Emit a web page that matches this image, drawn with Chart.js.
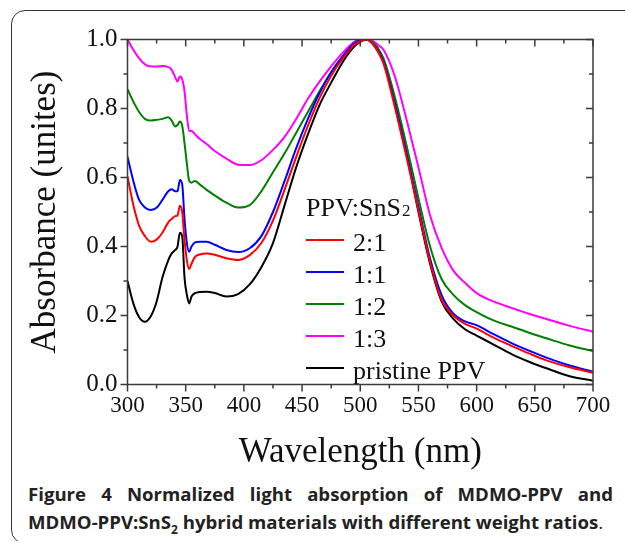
<!DOCTYPE html>
<html lang="en">
<head>
    <title>Normalized light absorption of MDMO-PPV and MDMO-PPV:SnS2</title>
    <meta charset="utf-8" />
    <script src="https://cdn.jsdelivr.net/npm/chart.js@4.4.1/dist/chart.umd.min.js"></script>
    <style>
        html, body { margin: 0; padding: 0; background: #fff; overflow: hidden; }
        #page { position: relative; width: 625px; height: 541px; overflow: hidden; }
        #frame {
            position: absolute; left: 11px; top: 10px; width: 660px; height: 534px;
            border: 1.5px solid #333; border-radius: 14px; box-sizing: border-box;
        }
        #myChart { position: absolute; left: 0; top: 0; }
        .caption {
            position: absolute; left: 28px; width: 585px;
            font-family: "Open Sans", "Noto Sans", sans-serif; font-weight: bold;
            font-size: 18.6px; line-height: 22px; color: #222; white-space: nowrap;
        }
        #cap1 { top: 483px; text-align: justify; text-align-last: justify; white-space: normal; }
        #cap2 { top: 511px; }
        #cap2 .dot { font-weight: normal; }
    </style>
    <script>
        //Wavelength grid (nm) shared by every curve.
        var wavelength = [300, 305, 310, 315, 320, 325, 330, 335, 338, 341, 343, 345, 347, 349, 351, 353, 355, 358, 362, 368,
            375, 385, 395, 405, 415, 425, 435, 445, 455, 465, 475, 485, 495, 500, 505, 510, 515, 520, 530, 540,
            550, 560, 570, 580, 590, 600, 615, 630, 645, 660, 680, 700];

        //Normalized absorbance.
        var ratio21 = [0.603, 0.52, 0.46, 0.43, 0.414, 0.42, 0.44, 0.47, 0.48, 0.488, 0.49, 0.518, 0.50, 0.42, 0.36, 0.335, 0.35, 0.37, 0.377, 0.38,
            0.376, 0.366, 0.361, 0.375, 0.41, 0.475, 0.565, 0.66, 0.75, 0.83, 0.895, 0.945, 0.985, 0.995, 1.0, 0.99, 0.965, 0.93, 0.80, 0.655,
            0.505, 0.355, 0.245, 0.20, 0.176, 0.162, 0.135, 0.112, 0.09, 0.07, 0.05, 0.034];
        var ratio11 = [0.66, 0.59, 0.535, 0.513, 0.506, 0.512, 0.535, 0.56, 0.566, 0.56, 0.56, 0.593, 0.58, 0.48, 0.41, 0.385, 0.40, 0.412, 0.414, 0.414,
            0.405, 0.39, 0.384, 0.395, 0.43, 0.50, 0.59, 0.685, 0.77, 0.845, 0.905, 0.952, 0.99, 0.998, 1.0, 0.99, 0.968, 0.935, 0.81, 0.665,
            0.515, 0.365, 0.258, 0.205, 0.183, 0.172, 0.145, 0.12, 0.098, 0.078, 0.055, 0.037];
        var ratio12 = [0.856, 0.82, 0.79, 0.77, 0.765, 0.767, 0.77, 0.775, 0.765, 0.748, 0.752, 0.762, 0.75, 0.70, 0.64, 0.59, 0.585, 0.59, 0.58, 0.564,
            0.548, 0.527, 0.513, 0.52, 0.56, 0.615, 0.67, 0.73, 0.79, 0.85, 0.905, 0.95, 0.988, 0.998, 1.0, 0.993, 0.975, 0.945, 0.83, 0.69,
            0.54, 0.40, 0.305, 0.26, 0.23, 0.21, 0.185, 0.168, 0.15, 0.134, 0.113, 0.097];
        var ratio13 = [1.0, 0.97, 0.945, 0.928, 0.922, 0.922, 0.923, 0.92, 0.912, 0.89, 0.878, 0.893, 0.885, 0.85, 0.78, 0.735, 0.735, 0.725, 0.712, 0.697,
            0.677, 0.655, 0.637, 0.636, 0.65, 0.68, 0.718, 0.77, 0.828, 0.878, 0.922, 0.962, 0.993, 1.0, 1.0, 0.997, 0.985, 0.97, 0.89, 0.765,
            0.63, 0.49, 0.395, 0.33, 0.295, 0.265, 0.24, 0.222, 0.205, 0.19, 0.17, 0.153];
        var pristine = [0.30, 0.235, 0.195, 0.182, 0.198, 0.24, 0.31, 0.36, 0.38, 0.39, 0.40, 0.44, 0.43, 0.31, 0.26, 0.235, 0.255, 0.265, 0.268, 0.269,
            0.265, 0.255, 0.262, 0.29, 0.34, 0.41, 0.52, 0.63, 0.725, 0.81, 0.875, 0.935, 0.98, 0.993, 1.0, 0.995, 0.975, 0.94, 0.81, 0.665,
            0.50, 0.35, 0.24, 0.19, 0.16, 0.142, 0.115, 0.088, 0.066, 0.047, 0.024, 0.011];

        var seriesLabels = ['2:1', '1:1', '1:2', '1:3', 'pristine PPV'];
        var seriesColors = ['#ff0000', '#0000ff', '#008000', '#ff00ff', '#000000'];
        var xTicks = [300, 350, 400, 450, 500, 550, 600, 650, 700];
        var yTicks = [0.0, 0.2, 0.4, 0.6, 0.8, 1.0];

        var serif = '"Liberation Serif", "Times New Roman", serif';

        function toPoints(values) {
            return values.map(function (v, i) { return { x: wavelength[i], y: v }; });
        }

        //Box frame with outward ticks on left/bottom and inward ticks on top/right.
        var frameTicks = {
            id: 'frameTicks',
            afterDatasetsDraw: function (chart) {
                var ctx = chart.ctx, a = chart.chartArea, x = chart.scales.x, y = chart.scales.y;
                var xs = [], ys = [];
                xTicks.forEach(function (v, i) {
                    xs.push([v, 7]);
                    if (i < xTicks.length - 1) xs.push([(v + xTicks[i + 1]) / 2, 4]);
                });
                yTicks.forEach(function (v, i) {
                    ys.push([v, 7]);
                    if (i < yTicks.length - 1) ys.push([(v + yTicks[i + 1]) / 2, 4]);
                });
                ctx.save();
                ctx.strokeStyle = '#3a3a3a';
                ctx.lineWidth = 1.5;
                ctx.strokeRect(a.left, a.top, a.right - a.left, a.bottom - a.top);
                ctx.beginPath();
                xs.forEach(function (t) {
                    var px = x.getPixelForValue(t[0]);
                    ctx.moveTo(px, a.bottom); ctx.lineTo(px, a.bottom + t[1]);
                    ctx.moveTo(px, a.top); ctx.lineTo(px, a.top + t[1]);
                });
                ys.forEach(function (t) {
                    var py = y.getPixelForValue(t[0]);
                    ctx.moveTo(a.left, py); ctx.lineTo(a.left - t[1], py);
                    ctx.moveTo(a.right, py); ctx.lineTo(a.right - t[1], py);
                });
                ctx.stroke();
                ctx.restore();
            }
        };

        //Legend drawn inside the plot, like the original figure.
        var insideLegend = {
            id: 'insideLegend',
            afterDraw: function (chart) {
                var ctx = chart.ctx;
                var left = 306, firstRow = 240, rowGap = 32;
                ctx.save();
                ctx.fillStyle = '#111';
                ctx.textBaseline = 'alphabetic';
                ctx.font = '26px ' + serif;
                ctx.fillText('PPV:SnS', left, 216);
                var w = ctx.measureText('PPV:SnS').width;
                ctx.font = '17px ' + serif;
                ctx.fillText('2', left + w + 1, 216);
                ctx.font = '26px ' + serif;
                chart.data.datasets.forEach(function (ds, i) {
                    var ry = firstRow + i * rowGap;
                    ctx.strokeStyle = ds.borderColor;
                    ctx.lineWidth = 2.2;
                    ctx.beginPath();
                    ctx.moveTo(left, ry);
                    ctx.lineTo(left + 38, ry);
                    ctx.stroke();
                    ctx.fillText(ds.label, left + 47, ry + 11);
                });
                ctx.restore();
            }
        };

        function drawChart() {
            var values = [ratio21, ratio11, ratio12, ratio13, pristine];
            var datasets = values.map(function (vals, i) {
                return {
                    label: seriesLabels[i],
                    data: toPoints(vals),
                    borderColor: seriesColors[i],
                    borderWidth: 2,
                    pointRadius: 0,
                    fill: false,
                    cubicInterpolationMode: 'monotone'
                };
            });

            new Chart(document.getElementById('myChart'), {
                type: 'line',
                data: { datasets: datasets },
                options: {
                    responsive: false,
                    animation: false,
                    layout: { padding: { left: 0, right: 32, top: 39.5, bottom: 0 } },
                    plugins: { legend: { display: false }, tooltip: { enabled: false } },
                    scales: {
                        x: {
                            type: 'linear', min: 300, max: 700,
                            grid: { display: false, drawTicks: false },
                            border: { display: false },
                            afterBuildTicks: function (s) { s.ticks = xTicks.map(function (v) { return { value: v }; }); },
                            afterFit: function (s) { s.height = 89.5; },
                            ticks: { padding: 8, color: '#111', maxRotation: 0, font: { family: serif, size: 23 } },
                            title: {
                                display: true, text: 'Wavelength (nm)', color: '#111',
                                padding: { top: 0, bottom: 0 }, font: { family: serif, size: 35 }
                            }
                        },
                        y: {
                            type: 'linear', min: 0, max: 1,
                            grid: { display: false, drawTicks: false },
                            border: { display: false },
                            afterBuildTicks: function (s) { s.ticks = yTicks.map(function (v) { return { value: v }; }); },
                            afterFit: function (s) { s.width = 127.5; },
                            ticks: {
                                padding: 10, color: '#111', font: { family: serif, size: 25 },
                                callback: function (v) { return v.toFixed(1); }
                            },
                            title: {
                                display: true, text: 'Absorbance (unites)', color: '#111',
                                padding: { top: 25, bottom: 0 }, font: { family: serif, size: 35 }
                            }
                        }
                    }
                },
                plugins: [frameTicks, insideLegend]
            });
        }
    </script>
</head>
<body onload="drawChart()">
    <div id="page">
        <div id="frame"></div>
        <canvas id="myChart" width="625" height="474"></canvas>
        <div class="caption" id="cap1">Figure 4 Normalized light absorption of MDMO-PPV and</div>
        <div class="caption" id="cap2">MDMO-PPV:SnS<sub style="font-size:12px;line-height:0">2</sub> hybrid materials with different weight ratios<span class="dot">.</span></div>
    </div>
</body>
</html>
